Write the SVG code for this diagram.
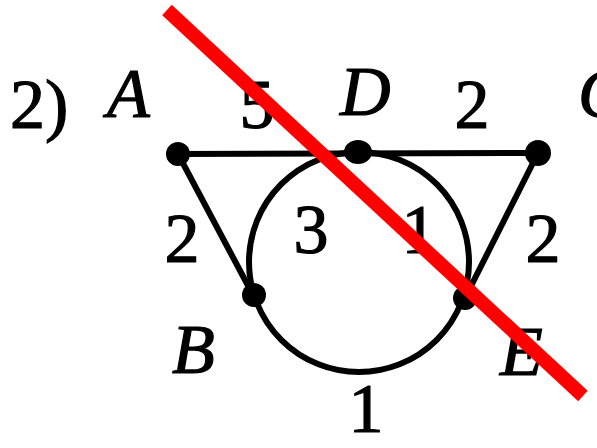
<svg xmlns="http://www.w3.org/2000/svg" width="597" height="448" viewBox="0 0 597 448" font-family="Liberation Serif, DejaVu Serif, serif">
<style>
.e{stroke:#000;stroke-width:6;fill:none}
.n{fill:#000}
.t{font-size:70px;fill:#000;stroke:#000;stroke-width:1.2}
.i{font-style:italic}
</style>
<rect width="597" height="448" fill="#fff"/>
<g id="connectors">
<line class="e" x1="178" y1="154" x2="538" y2="153"/>
<line class="e" x1="178" y1="154" x2="253" y2="295"/>
<line class="e" x1="538" y1="153" x2="465" y2="298"/>
<circle class="e" cx="359" cy="262" r="110"/>
</g>
<g id="A"><circle class="n" cx="178" cy="154" r="12"/><text class="t i" x="107" y="117" font-family="Liberation Serif">A</text></g>
<g id="D"><ellipse class="n" cx="358" cy="152" rx="14" ry="12"/><text class="t i" x="340" y="115" font-family="Liberation Serif">D</text></g>
<g id="C"><circle class="n" cx="538" cy="153" r="13"/><text class="t i" x="578" y="117" font-family="Liberation Serif">C</text></g>
<g id="B"><circle class="n" cx="254" cy="295" r="12"/><text class="t i" x="172" y="373" font-family="Liberation Serif">B</text></g>
<g id="E"><circle class="n" cx="465" cy="298" r="12"/><text class="t i" x="500" y="375" font-family="Liberation Serif">E</text></g>
<g id="labels" font-family="Liberation Serif">
<text class="t" x="10" y="128">2)</text>
<text class="t" x="257" y="128" text-anchor="middle">5</text>
<text class="t" x="472" y="128" text-anchor="middle">2</text>
<text class="t" x="182" y="262" text-anchor="middle">2</text>
<text class="t" x="311" y="253" text-anchor="middle">3</text>
<text class="t" x="419" y="253" text-anchor="middle">1</text>
<text class="t" x="543" y="262" text-anchor="middle">2</text>
<text class="t" x="366" y="432" text-anchor="middle">1</text>
</g>
<line x1="167" y1="10" x2="583" y2="396" stroke="#ff0000" stroke-width="14"/>
</svg>
